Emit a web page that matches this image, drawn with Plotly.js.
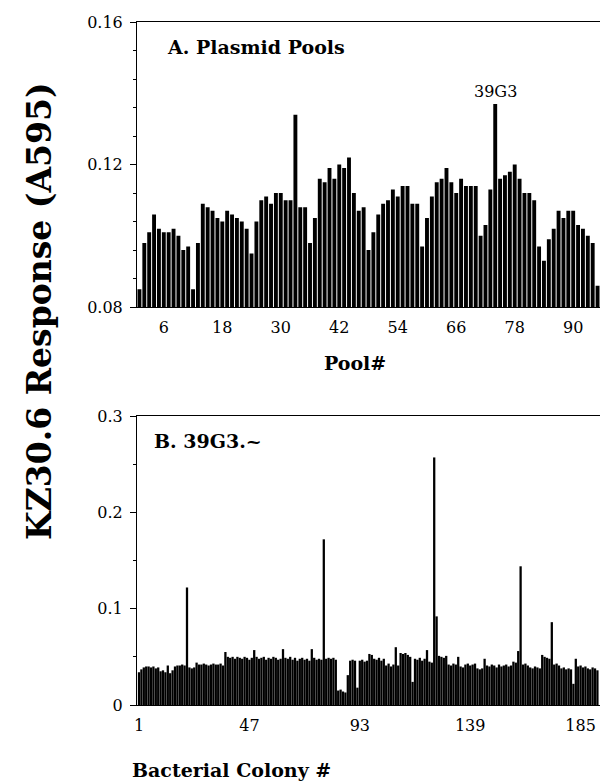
<!DOCTYPE html>
<html>
<head>
<meta charset="utf-8">
<script src="https://cdn.plot.ly/plotly-3.0.1.min.js"></script>
<style>html,body{margin:0;padding:0;background:#fff;}#chart{width:600px;height:781px;}</style>
</head>
<body>
<div id="chart"></div>
<script>
// ---------- Panel A: plasmid pools ----------
const poolValues = [
  0.085, 0.098, 0.101, 0.106, 0.102, 0.101, 0.101, 0.102, 0.100, 0.096,
  0.097, 0.085, 0.098, 0.109, 0.108, 0.107, 0.105, 0.104, 0.107, 0.106,
  0.105, 0.104, 0.102, 0.095, 0.104, 0.110, 0.111, 0.109, 0.112, 0.112,
  0.110, 0.110, 0.134, 0.108, 0.108, 0.098, 0.105, 0.116, 0.115, 0.119,
  0.116, 0.120, 0.119, 0.122, 0.112, 0.107, 0.108, 0.096, 0.101, 0.106,
  0.109, 0.110, 0.113, 0.111, 0.114, 0.114, 0.109, 0.109, 0.097, 0.105,
  0.111, 0.115, 0.116, 0.119, 0.115, 0.112, 0.116, 0.114, 0.114, 0.114,
  0.100, 0.103, 0.113, 0.137, 0.116, 0.117, 0.118, 0.120, 0.116, 0.112,
  0.112, 0.110, 0.097, 0.093, 0.099, 0.102, 0.107, 0.105, 0.107, 0.107,
  0.103, 0.102, 0.100, 0.098, 0.086
];
const poolNumbers = poolValues.map((_, i) => i + 1);
const poolTicks = [6, 18, 30, 42, 54, 66, 78, 90];
const poolYTicks = [0.08, 0.12, 0.16];
const poolYTickText = ['0.08', '0.12', '0.16'];
const hitLabel = '39G3';

// ---------- Panel B: bacterial colonies ----------
const colonyValues = [
  0.034, 0.037, 0.039, 0.040, 0.040, 0.039, 0.040, 0.038, 0.039, 0.035,
  0.036, 0.034, 0.041, 0.033, 0.036, 0.040, 0.041, 0.041, 0.042, 0.041,
  0.122, 0.039, 0.038, 0.039, 0.044, 0.042, 0.042, 0.043, 0.042, 0.041,
  0.042, 0.043, 0.042, 0.042, 0.043, 0.041, 0.055, 0.050, 0.049, 0.050,
  0.048, 0.050, 0.049, 0.048, 0.050, 0.049, 0.047, 0.049, 0.057, 0.050,
  0.048, 0.049, 0.050, 0.047, 0.049, 0.048, 0.050, 0.049, 0.047, 0.048,
  0.058, 0.049, 0.048, 0.050, 0.047, 0.049, 0.046, 0.048, 0.049, 0.047,
  0.048, 0.046, 0.058, 0.049, 0.047, 0.048, 0.047, 0.172, 0.048, 0.049,
  0.048, 0.049, 0.047, 0.015, 0.016, 0.014, 0.013, 0.031, 0.046, 0.047,
  0.046, 0.018, 0.046, 0.047, 0.045, 0.046, 0.053, 0.052, 0.048, 0.047,
  0.049, 0.046, 0.048, 0.041, 0.043, 0.040, 0.042, 0.060, 0.041, 0.054,
  0.053, 0.054, 0.052, 0.050, 0.024, 0.048, 0.047, 0.049, 0.046, 0.048,
  0.057, 0.045, 0.044, 0.257, 0.092, 0.051, 0.050, 0.049, 0.051, 0.042,
  0.041, 0.043, 0.042, 0.050, 0.040, 0.039, 0.042, 0.043, 0.041, 0.042,
  0.043, 0.038, 0.037, 0.038, 0.048, 0.041, 0.040, 0.042, 0.041, 0.039,
  0.042, 0.040, 0.041, 0.042, 0.040, 0.041, 0.045, 0.044, 0.056, 0.144,
  0.042, 0.043, 0.041, 0.039, 0.038, 0.040, 0.039, 0.038, 0.052, 0.050,
  0.049, 0.048, 0.086, 0.042, 0.043, 0.041, 0.038, 0.039, 0.037, 0.038,
  0.037, 0.022, 0.048, 0.040, 0.041, 0.039, 0.040, 0.038, 0.037, 0.039,
  0.038, 0.036
];
const colonyNumbers = colonyValues.map((_, i) => i + 1);
const colonyTicks = [1, 47, 93, 139, 185];
const colonyYTicks = [0, 0.1, 0.2, 0.3];
const colonyYTickText = ['0', '0.1', '0.2', '0.3'];

// ---------- Texts ----------
const yTitle = 'KZ30.6 Response (A595)';
const panelATitle = 'A. Plasmid Pools';
const panelBTitle = 'B. 39G3.~';
const xTitleA = 'Pool#';
const xTitleB = 'Bacterial Colony #';

const SERIF = 'DejaVu Serif, Liberation Serif, serif';
const tickFont = {family: SERIF, size: 16, color: '#000'};
const boldFont = {family: SERIF, size: 19, color: '#000', weight: 'bold'};

const hitIdx = poolValues.indexOf(Math.max(...poolValues));

const traces = [
  {type: 'bar', x: poolNumbers, y: poolValues, xaxis: 'x', yaxis: 'y',
   marker: {color: '#000', line: {width: 0}}, width: 0.8, hoverinfo: 'x+y'},
  {type: 'bar', x: colonyNumbers, y: colonyValues, xaxis: 'x2', yaxis: 'y2',
   marker: {color: '#000', line: {width: 0}}, width: 0.95, hoverinfo: 'x+y'}
];

const axisCommon = {
  showline: true, linecolor: '#000', linewidth: 1, showgrid: false, zeroline: false,
  tickfont: tickFont, tickcolor: '#000'
};

const layout = {
  width: 600, height: 781,
  margin: {l: 137, r: 0, t: 22, b: 76},
  paper_bgcolor: '#fff', plot_bgcolor: '#fff',
  showlegend: false,
  bargap: 0.15,
  xaxis: Object.assign({}, axisCommon, {
    domain: [0, 1], anchor: 'y', range: [0.5, 95.5],
    tickmode: 'array', tickvals: poolTicks, ticks: '', mirror: true,
    ticklabelstandoff: 6
  }),
  yaxis: Object.assign({}, axisCommon, {
    domain: [0.5827, 1], anchor: 'x', range: [0.08, 0.16],
    tickmode: 'array', tickvals: poolYTicks, ticktext: poolYTickText,
    ticks: 'outside', ticklen: 6, tickwidth: 1,
    minor: {tick0: 0.08, dtick: 0.008, ticks: 'outside', ticklen: 3, tickcolor: '#000', showgrid: false},
    ticklabelstandoff: 4
  }),
  xaxis2: Object.assign({}, axisCommon, {
    domain: [0, 1], anchor: 'y2', range: [0.1667, 193.08],
    tickmode: 'array', tickvals: colonyTicks, ticks: '', mirror: true,
    ticklabelstandoff: 6
  }),
  yaxis2: Object.assign({}, axisCommon, {
    domain: [0, 0.4231], anchor: 'x2', range: [0, 0.3],
    tickmode: 'array', tickvals: colonyYTicks, ticktext: colonyYTickText,
    ticks: 'outside', ticklen: 6, tickwidth: 1,
    minor: {tick0: 0, dtick: 0.05, ticks: 'outside', ticklen: 3, tickcolor: '#000', showgrid: false},
    ticklabelstandoff: 4
  }),
  annotations: [
    {text: panelATitle, xref: 'paper', yref: 'paper', x: 0.0605, y: 0.9634,
     xanchor: 'left', yanchor: 'middle', showarrow: false, font: boldFont},
    {text: panelBTitle, xref: 'paper', yref: 'paper', x: 0.0324, y: 0.3865,
     xanchor: 'left', yanchor: 'middle', showarrow: false, font: boldFont},
    {text: hitLabel, xref: 'x', yref: 'y', x: poolNumbers[hitIdx], y: poolValues[hitIdx],
     xanchor: 'center', yanchor: 'bottom', yshift: 1, showarrow: false,
     font: {family: SERIF, size: 16, color: '#000'}},
    {text: xTitleA, xref: 'paper', yref: 'paper', x: 0.471, y: 0.5007,
     xanchor: 'center', yanchor: 'middle', showarrow: false, font: boldFont},
    {text: xTitleB, xref: 'paper', yref: 'paper', x: 0.205, y: -0.095,
     xanchor: 'center', yanchor: 'middle', showarrow: false, font: boldFont},
    {text: yTitle, xref: 'paper', yref: 'paper', x: -0.2095, y: 0.5769,
     xanchor: 'center', yanchor: 'middle', textangle: -90, showarrow: false,
     font: {family: SERIF, size: 33, color: '#000', weight: 'bold'}}
  ]
};

Plotly.newPlot('chart', traces, layout, {displayModeBar: false, staticPlot: true});
</script>
</body>
</html>
